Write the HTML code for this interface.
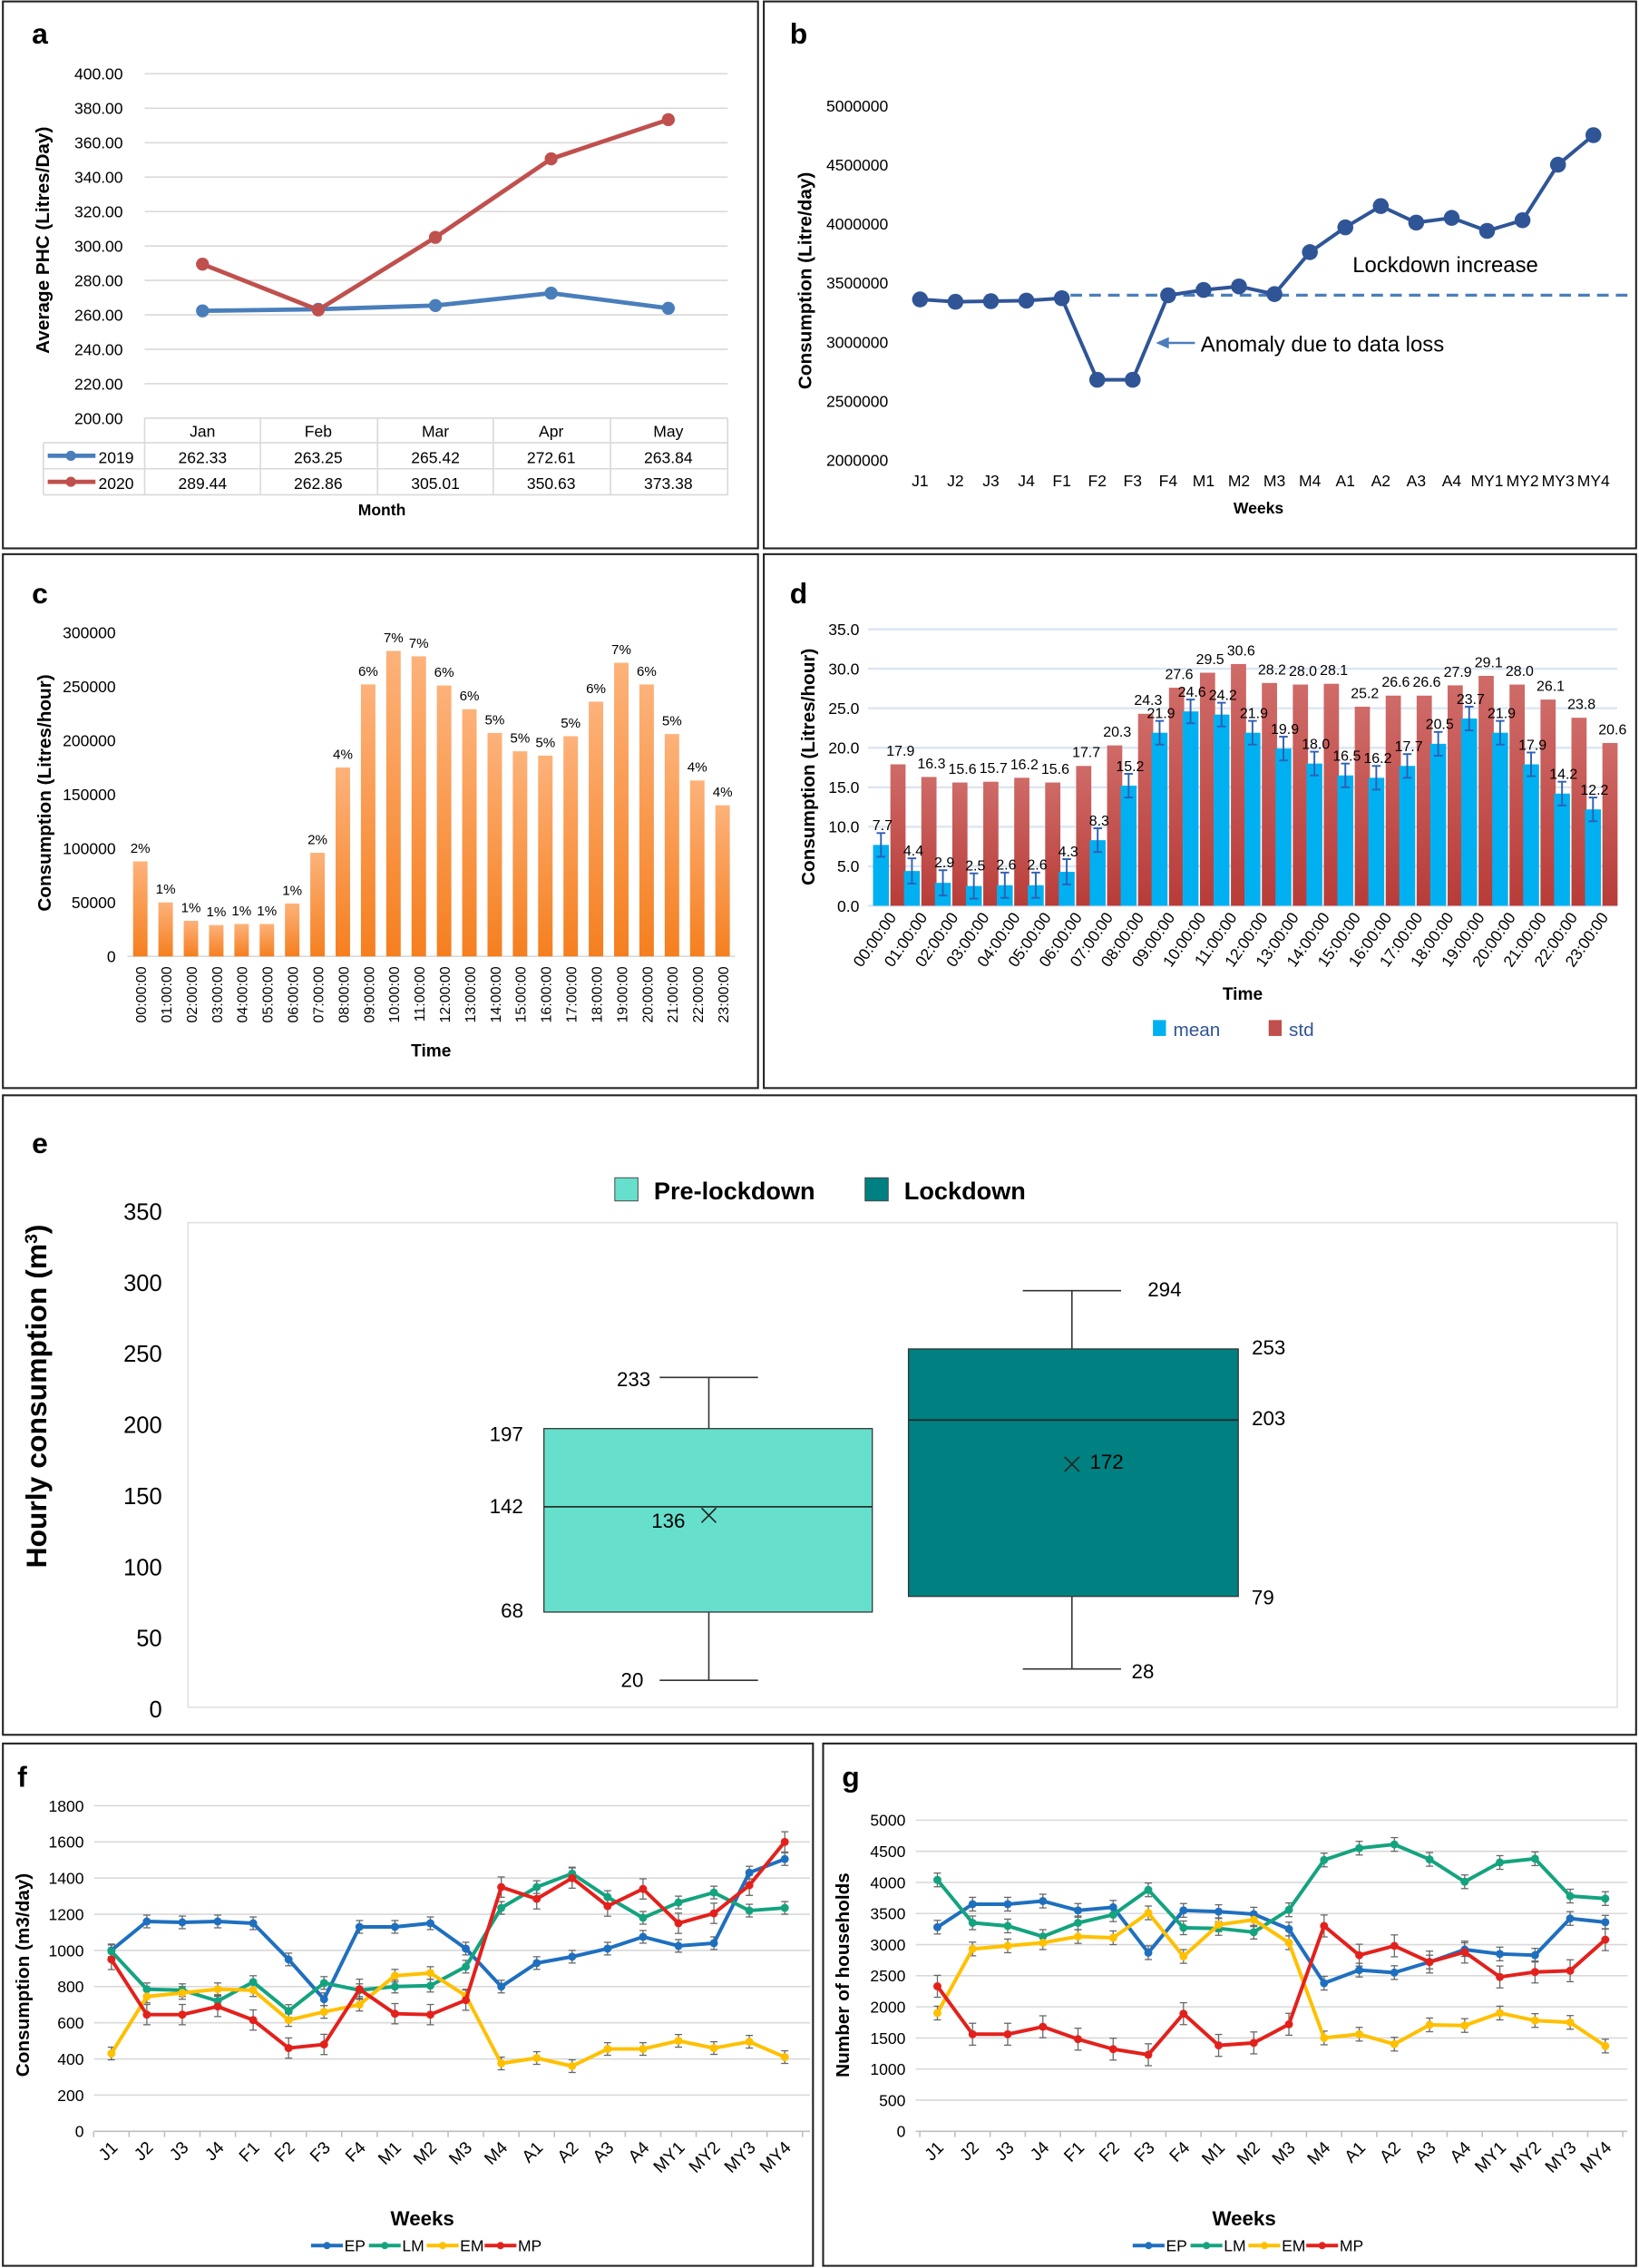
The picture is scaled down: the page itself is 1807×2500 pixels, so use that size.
<!DOCTYPE html>
<html><head><meta charset="utf-8">
<style>html,body{margin:0;padding:0;background:#fff}svg{display:block}text{font-family:"Liberation Sans",Arial,sans-serif}</style>
</head><body>
<svg id="s" xmlns="http://www.w3.org/2000/svg" width="1807" height="2500" viewBox="0 0 1133 1567.5">
<rect width="1133" height="1568" fill="#fff"/>
</svg>
<script>
const S=document.getElementById('s');const NS='http://www.w3.org/2000/svg';
function el(t,a,txt){const e=document.createElementNS(NS,t);for(const k in a)e.setAttribute(k,a[k]);if(txt!==undefined)e.textContent=txt;S.appendChild(e);return e;}
function T(x,y,s,o){o=o||{};return el('text',Object.assign({x:x,y:y,'font-size':o.fs||11,'text-anchor':o.a||'middle',fill:o.c||'#000','font-weight':o.b?'bold':'normal'},o.tr?{transform:o.tr}:{}),s);}
function L(x1,y1,x2,y2,c,w,d){return el('line',Object.assign({x1:x1,y1:y1,x2:x2,y2:y2,stroke:c,'stroke-width':w||1},d?{'stroke-dasharray':d}:{}));}
function P(pts,c,w){return el('polyline',{points:pts.map(p=>p.join(',')).join(' '),fill:'none',stroke:c,'stroke-width':w,'stroke-linejoin':'round'});}
const defs=el('defs',{});
defs.innerHTML='<linearGradient id="og" x1="0" y1="0" x2="0" y2="1"><stop offset="0" stop-color="#fdb27a"/><stop offset="1" stop-color="#f57f1f"/></linearGradient><linearGradient id="rg" x1="0" y1="0" x2="0" y2="1"><stop offset="0" stop-color="#cf6b68"/><stop offset="1" stop-color="#b83c38"/></linearGradient>';
[[2,1,522,378],[528,1,603,378],[2,383,522,369],[528,383,603,369],[2,757,1129,442],[2,1205,560,361],[569,1205,562,361]].forEach(r=>el('rect',{x:r[0],y:r[1],width:r[2],height:r[3],fill:'none',stroke:'#222','stroke-width':1.3}));
[['a',22,30],['b',546,30],['c',22,417],['d',546,417],['e',22,797],['f',12,1235],['g',582,1235]].forEach(l=>T(l[1],l[2],l[0],{fs:20,b:1,a:'start'}));

(function(){
 const y0=289,dy=23.8/20;const Y=v=>y0-(v-200)*dy;
 for(let v=200;v<=400;v+=20){if(v>200)L(100,Y(v),503,Y(v),'#d9d9d9',1);T(85,Y(v)+4,v.toFixed(2),{fs:11,a:'end'});}
 const xs=[140,220,301,381,462];
 const d19=[262.33,263.25,265.42,272.61,263.84],d20=[289.44,262.86,305.01,350.63,373.38];
 P(xs.map((x,i)=>[x,Y(d19[i])]),'#4a7ebb',3);P(xs.map((x,i)=>[x,Y(d20[i])]),'#c0504d',3);
 xs.forEach((x,i)=>{el('circle',{cx:x,cy:Y(d19[i]),r:4.5,fill:'#4a7ebb'});el('circle',{cx:x,cy:Y(d20[i]),r:4.5,fill:'#c0504d'});});
 const g='#d9d9d9';
 L(100,289,503,289,g,1);L(30,306,503,306,g,1);L(30,324,503,324,g,1);L(30,342,503,342,g,1);
 L(30,306,30,342,g,1);[100,180,261,341,422,503].forEach(x=>L(x,289,x,342,g,1));
 ['Jan','Feb','Mar','Apr','May'].forEach((m,i)=>T(xs[i],302,m,{fs:11}));
 xs.forEach((x,i)=>{T(x,320,d19[i].toFixed(2),{fs:11});T(x,338,d20[i].toFixed(2),{fs:11});});
 L(33,315,66,315,'#4a7ebb',3);el('circle',{cx:49,cy:315,r:3.5,fill:'#4a7ebb'});T(68,320,'2019',{fs:11,a:'start'});
 L(33,333,66,333,'#c0504d',3);el('circle',{cx:49,cy:333,r:3.5,fill:'#c0504d'});T(68,338,'2020',{fs:11,a:'start'});
 T(264,356,'Month',{fs:11,b:1});
 T(0,0,'Average PHC (Litres/Day)',{fs:13,b:1,tr:'translate(34,166) rotate(-90)'});
})();

(function(){
 const Y=v=>318-(v-2e6)/3e6*245;
 for(let v=2e6;v<=5e6;v+=5e5){T(614,Y(v)+4,String(v),{fs:11,a:'end'});}
 const lab=['J1','J2','J3','J4','F1','F2','F3','F4','M1','M2','M3','M4','A1','A2','A3','A4','MY1','MY2','MY3','MY4'];
 const v=[3360000,3340000,3345000,3350000,3370000,2680000,2680000,3395000,3440000,3470000,3405000,3760000,3970000,4150000,4010000,4050000,3940000,4030000,4500000,4750000];
 const X=i=>636+i*24.5;
 L(740,204,1125,204,'#4a7ebb',2,'8,5');
 P(v.map((a,i)=>[X(i),Y(a)]),'#2f5597',2.5);
 v.forEach((a,i)=>el('circle',{cx:X(i),cy:Y(a),r:5.5,fill:'#2f5597'}));
 lab.forEach((l,i)=>T(X(i),336,l,{fs:11}));
 T(870,355,'Weeks',{fs:11,b:1});
 T(935,188,'Lockdown increase',{fs:15,a:'start'});
 L(826,237,806,237,'#4a7ebb',1.5);el('polygon',{points:'799,237 808,233 808,241',fill:'#4a7ebb'});
 T(830,243,'Anomaly due to data loss',{fs:15,a:'start'});
 T(0,0,'Consumption (Litre/day)',{fs:13,b:1,tr:'translate(561,194) rotate(-90)'});
})();

(function(){
 const Y=v=>661-v/50000*37.3;
 for(let v=0;v<=300000;v+=50000)T(80,Y(v)+4,String(v),{fs:11,a:'end'});
 const v=[88000,50000,33000,29000,30000,30000,49000,96000,175000,252000,283000,278000,251000,229000,207000,190000,186000,204000,236000,272000,252000,206000,163000,140000];
 const p=['2%','1%','1%','1%','1%','1%','1%','2%','4%','6%','7%','7%','6%','6%','5%','5%','5%','5%','6%','7%','6%','5%','4%','4%'];
 L(88,661,508,661,'#d9d9d9',1);
 v.forEach((a,i)=>{const x=97+i*17.5;el('rect',{x:x-5,y:Y(a),width:10,height:661-Y(a),fill:'url(#og)'});
  T(x,Y(a)-6,p[i],{fs:9.5});
  const h=(i<10?'0':'')+i+':00:00';T(0,0,h,{fs:10,a:'end',tr:'translate('+(x+4)+',668) rotate(-90)'});});
 T(298,730,'Time',{fs:12,b:1});
 T(0,0,'Consumption (Litres/hour)',{fs:13,b:1,tr:'translate(35,548) rotate(-90)'});
})();

(function(){
 const Y=v=>626-v/5*27.3;
 for(let v=0;v<=35;v+=5){L(600,Y(v),1118,Y(v),'#dce6f2',1.5);T(594,Y(v)+4,v.toFixed(1),{fs:11,a:'end'});}
 const m=[7.7,4.4,2.9,2.5,2.6,2.6,4.3,8.3,15.2,21.9,24.6,24.2,21.9,19.9,18.0,16.5,16.2,17.7,20.5,23.7,21.9,17.9,14.2,12.2];
 const s=[17.9,16.3,15.6,15.7,16.2,15.6,17.7,20.3,24.3,27.6,29.5,30.6,28.2,28.0,28.1,25.2,26.6,26.6,27.9,29.1,28.0,26.1,23.8,20.6];
 m.forEach((a,i)=>{const c=615+i*21.4;const xm=c-6,xs=c+5.5;
  el('rect',{x:xm-5.5,y:Y(a),width:11,height:626-Y(a),fill:'#00b0f0'});
  el('rect',{x:xs-5,y:Y(s[i]),width:10.5,height:626-Y(s[i]),fill:'url(#rg)'});
  const e=a<5?1.6:1.5;L(xm,Y(a+e),xm,Y(a-e),'#2e5fb5',1.2);L(xm-3,Y(a+e),xm+3,Y(a+e),'#2e5fb5',1.2);L(xm-3,Y(a-e),xm+3,Y(a-e),'#2e5fb5',1.2);
  T(xm+1,Y(a+e)-2,a.toFixed(1),{fs:10});T(xs+2,Y(s[i])-6,s[i].toFixed(1),{fs:10});
  const h=(i<10?'0':'')+i+':00:00';T(0,0,h,{fs:11,a:'end',tr:'translate('+(c+5)+',634) rotate(-55)'});});
 T(859,691,'Time',{fs:12,b:1});
 el('rect',{x:797,y:705,width:9,height:11,fill:'#00b0f0'});T(811,716,'mean',{fs:13,a:'start',c:'#2f5597'});
 el('rect',{x:877,y:705,width:9,height:11,fill:'#c0504d'});T(891,716,'std',{fs:13,a:'start',c:'#2f5597'});
 T(0,0,'Consumption (Litres/hour)',{fs:13,b:1,tr:'translate(563,530) rotate(-90)'});
})();

(function(){
 const Y=v=>1181-v*0.983;
 for(let v=0;v<=350;v+=50)T(112,Y(v)+6,String(v),{fs:16,a:'end'});
 el('rect',{x:130,y:845,width:988,height:335,fill:'none',stroke:'#e0e0e0','stroke-width':1});
 el('rect',{x:425,y:814,width:16,height:16,fill:'#66e0cc',stroke:'#444','stroke-width':0.6});T(452,829,'Pre-lockdown',{fs:17,b:1,a:'start'});
 el('rect',{x:598,y:814,width:16,height:16,fill:'#008080',stroke:'#444','stroke-width':0.6});T(625,829,'Lockdown',{fs:17,b:1,a:'start'});
 function box(x1,x2,q1,md,q3,lo,hi,mn,c,cx){
  L(cx,Y(hi),cx,Y(q3),'#333',1);L(cx,Y(q1),cx,Y(lo),'#333',1);
  L(cx-34,Y(hi),cx+34,Y(hi),'#333',1);L(cx-34,Y(lo),cx+34,Y(lo),'#333',1);
  el('rect',{x:x1,y:Y(q3),width:x2-x1,height:Y(q1)-Y(q3),fill:c,stroke:'#333','stroke-width':0.8});
  L(x1,Y(md),x2,Y(md),'#222',1);
  const my=Y(mn);L(cx-5,my-5,cx+5,my+5,'#222',1);L(cx-5,my+5,cx+5,my-5,'#222',1);
 }
 box(376,603,68,142,197,20,233,136,'#66e0cc',490);
 box(628,856,79,203,253,28,294,172,'#008080',741);
 [['233',438,958],['197',350,996],['142',350,1046],['68',354,1118],['20',437,1166],['136',462,1056],
  ['294',805,896],['253',877,936],['203',877,985],['79',873,1109],['28',790,1160],['172',765,1015]].forEach(t=>T(t[1],t[2],t[0],{fs:14}));
 const t=T(0,0,'Hourly consumption (m',{fs:20,b:1,tr:'translate(32,965) rotate(-90)'});
 const ts=document.createElementNS(NS,'tspan');ts.setAttribute('baseline-shift','super');ts.setAttribute('font-size','12');ts.textContent='3';t.appendChild(ts);
 t.appendChild(document.createTextNode(')'));
})();

function lines(o){
 const Y=v=>o.y0-v/o.step*o.dy;
 for(let v=0;v<=o.max;v+=o.step){if(v>0)L(o.x1,Y(v),o.x2,Y(v),'#d9d9d9',1);T(o.lx,Y(v)+4,String(v),{fs:11,a:'end'});}
 L(o.x1,o.y0,o.x2,o.y0,'#bfbfbf',1);
 const lab=['J1','J2','J3','J4','F1','F2','F3','F4','M1','M2','M3','M4','A1','A2','A3','A4','MY1','MY2','MY3','MY4'];
 const X=i=>o.xa+i*o.sp;
 for(let i=0;i<=20;i++)L(X(i)-o.sp/2,o.y0,X(i)-o.sp/2,o.y0+4,'#bfbfbf',1);
 const cols=['#1f6fbf','#14a37f','#ffc000','#e3211c'];
 o.d.forEach((d,k)=>{d.forEach((a,i)=>{const e=o.err*(k==3?1.6:1);L(X(i),Y(a-e),X(i),Y(a+e),'#666',0.8);L(X(i)-2.5,Y(a-e),X(i)+2.5,Y(a-e),'#666',0.8);L(X(i)-2.5,Y(a+e),X(i)+2.5,Y(a+e),'#666',0.8);});});
 o.d.forEach((d,k)=>{P(d.map((a,i)=>[X(i),Y(a)]),cols[k],2.5);d.forEach((a,i)=>el('circle',{cx:X(i),cy:Y(a),r:2.8,fill:cols[k]}));});
 lab.forEach((l,i)=>T(0,0,l,{fs:12,a:'end',tr:'translate('+(X(i)+5)+','+(o.y0+12)+') rotate(-45)'}));
 T(o.wx,1538,'Weeks',{fs:14,b:1});
 const nm=['EP','LM','EM','MP'];let lx=o.wx-77;
 nm.forEach((n,k)=>{L(lx,1552,lx+22,1552,cols[k],2.5);el('circle',{cx:lx+11,cy:1552,r:2.5,fill:cols[k]});T(lx+23,1556,n,{fs:11,a:'start'});lx+=40;});
 T(0,0,o.yt,{fs:13,b:1,tr:'translate('+o.ytx+',1365) rotate(-90)'});
}
lines({y0:1473,dy:25,step:200,max:1800,lx:58,x1:65,x2:560,xa:77,sp:24.5,err:35,wx:292,yt:'Consumption (m3/day)',ytx:20,
 d:[[1000,1160,1155,1160,1150,950,730,1130,1130,1150,1010,800,930,965,1010,1075,1025,1040,1430,1505],
    [995,785,780,720,825,665,820,780,800,805,910,1235,1350,1425,1295,1180,1265,1320,1220,1235],
    [430,745,765,785,780,615,660,700,860,875,750,375,405,360,455,455,500,460,495,410],
    [950,645,645,690,615,460,480,785,650,645,725,1350,1285,1400,1245,1340,1150,1205,1360,1600]]});
lines({y0:1473,dy:21.5,step:500,max:5000,lx:626,x1:633,x2:1125,xa:648,sp:24.3,err:110,wx:860,yt:'Number of households',ytx:587,
 d:[[3280,3650,3650,3700,3550,3600,2870,3550,3530,3490,3250,2380,2590,2550,2720,2920,2850,2830,3420,3360],
    [4040,3350,3300,3130,3350,3480,3880,3270,3260,3200,3560,4360,4550,4610,4370,4010,4320,4380,3780,3740],
    [1900,2930,2980,3030,3130,3110,3510,2810,3320,3400,3030,1500,1560,1400,1710,1700,1900,1780,1750,1370],
    [2330,1560,1560,1680,1480,1320,1230,1890,1380,1420,1720,3300,2830,2980,2720,2880,2480,2560,2580,3080]]});
</script>
</body></html>
